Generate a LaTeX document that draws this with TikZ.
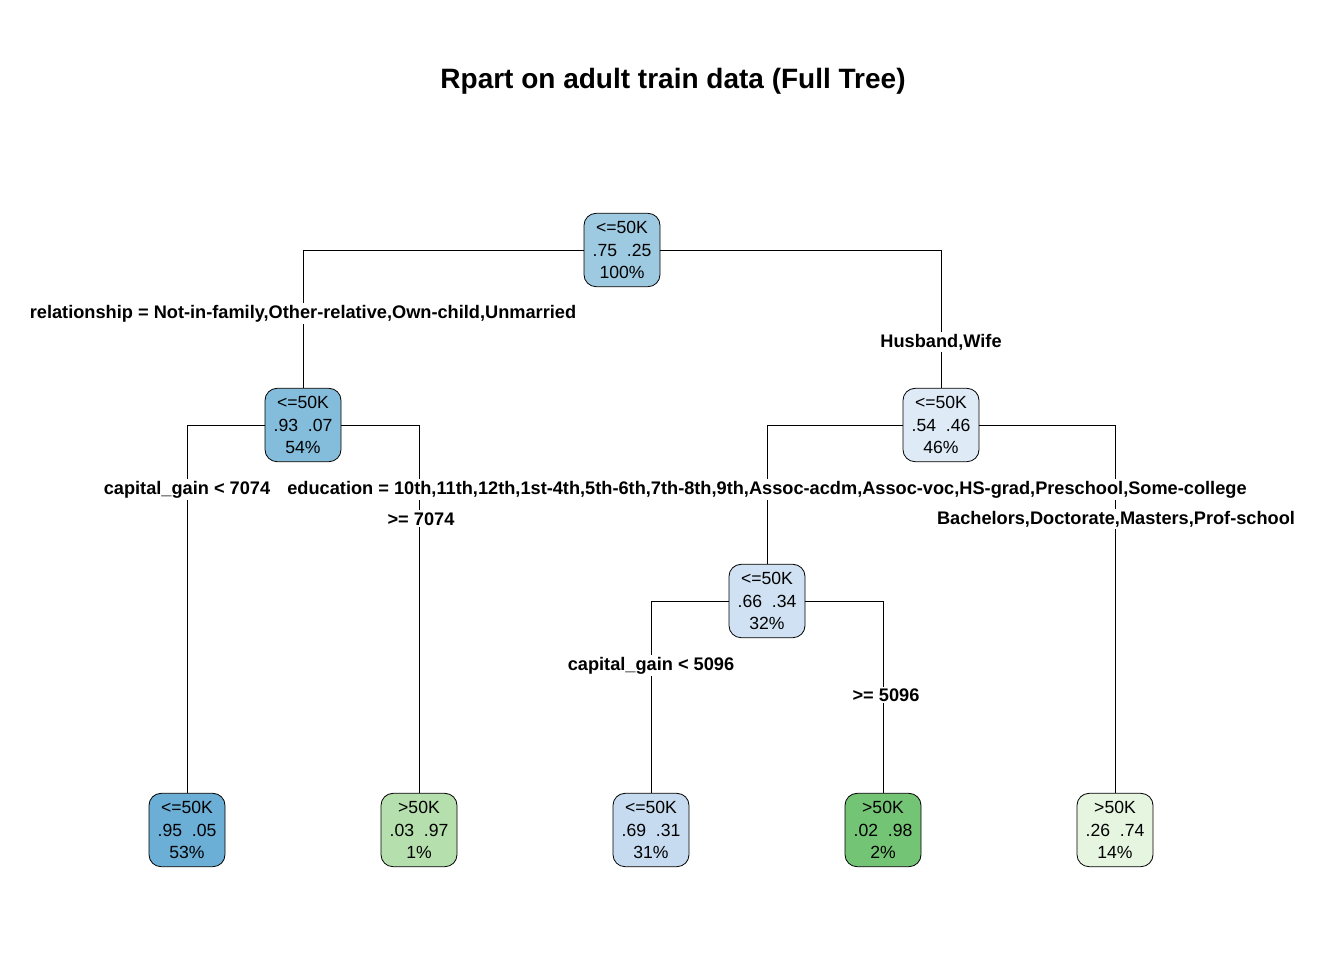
\documentclass[tikz,border=0pt]{standalone}
\usepackage{fontspec}
\setmainfont{Liberation Sans}
\usetikzlibrary{positioning}
\definecolor{cRoot}{HTML}{9ECAE1}
\definecolor{cRel}{HTML}{84BCDB}
\definecolor{cMar}{HTML}{DEEBF7}
\definecolor{cEdu}{HTML}{CFE1F2}
\definecolor{cLowA}{HTML}{6BAED6}
\definecolor{cHighA}{HTML}{B5E0AD}
\definecolor{cLowB}{HTML}{C6DBEF}
\definecolor{cHighB}{HTML}{74C476}
\definecolor{cHighC}{HTML}{E5F5E0}

\begin{document}
\begin{tikzpicture}[x=0.75pt, y=-0.75pt, line width=0.6pt,
    split/.style={draw, rounded corners=9pt, minimum width=57pt, minimum height=55pt, inner sep=0pt, align=center, font=\fontsize{13.2}{16.8}\selectfont},
    cond/.style={fill=white, inner sep=1.5pt, yshift=-2.2pt, font=\bfseries\fontsize{13.65}{15}\selectfont}]
    \useasboundingbox (0,0) rectangle (1344,960);

    \node[font=\bfseries\fontsize{21}{24}\selectfont] (title) at (673,81) {Rpart on adult train data (Full Tree)};

    \node[split, fill=cRoot] (root) at (622,250) {<=50K\\.75\ \ .25\\100\%};
    \node[split, fill=cRel] (rel) at (303,425) {<=50K\\.93\ \ .07\\54\%};
    \node[split, fill=cMar] (mar) at (941,425) {<=50K\\.54\ \ .46\\46\%};
    \node[split, fill=cEdu] (edu) at (767,601) {<=50K\\.66\ \ .34\\32\%};

    \node[split, fill=cLowA] (l1) at (187,830) {<=50K\\.95\ \ .05\\53\%};
    \node[split, fill=cHighA] (l2) at (419,830) {>50K\\.03\ \ .97\\1\%};
    \node[split, fill=cLowB] (l3) at (651,830) {<=50K\\.69\ \ .31\\31\%};
    \node[split, fill=cHighB] (l4) at (883,830) {>50K\\.02\ \ .98\\2\%};
    \node[split, fill=cHighC] (l5) at (1115,830) {>50K\\.26\ \ .74\\14\%};

    % branches
    \draw (root.west) -| (rel.north);
    \draw (root.east) -| (mar.north);
    \draw (rel.west) -| (l1.north);
    \draw (rel.east) -| (l2.north);
    \draw (mar.west) -| (edu.north);
    \draw (mar.east) -| (l5.north);
    \draw (edu.west) -| (l3.north);
    \draw (edu.east) -| (l4.north);

    % split labels
    \node[cond] (relL) at (303,311) {relationship = Not-in-family,Other-relative,Own-child,Unmarried};
    \node[cond] (relR) at (941,339) {Husband,Wife};
    \node[cond] (capL) at (187,487) {capital\_gain < 7074};
    \node[cond] (capR) at (421,516) {>= 7074};
    \node[cond] (eduL) at (767,487) {education = 10th,11th,12th,1st-4th,5th-6th,7th-8th,9th,Assoc-acdm,Assoc-voc,HS-grad,Preschool,Some-college};
    \node[cond] (eduR) at (1116,516) {Bachelors,Doctorate,Masters,Prof-school};
    \node[cond] (gainL) at (651,663) {capital\_gain < 5096};
    \node[cond] (gainR) at (886,692) {>= 5096};
\end{tikzpicture}
\end{document}
